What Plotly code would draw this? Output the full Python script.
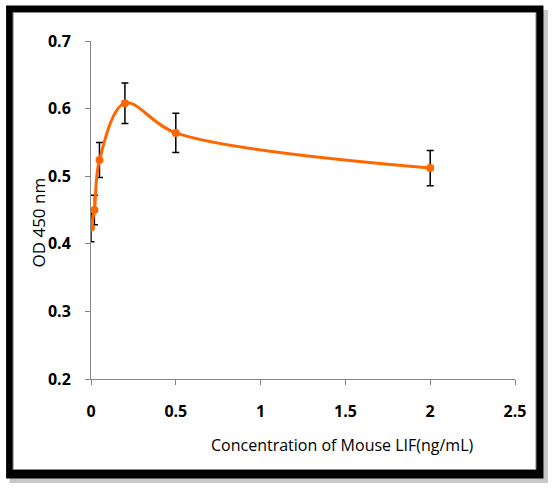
import plotly.graph_objects as go

# LIF dose response (OD 450 nm)
conc = [0, 0.02, 0.05, 0.2, 0.5, 2]
od450 = [0.424, 0.450, 0.524, 0.608, 0.564, 0.512]
od_err = [0.021, 0.022, 0.026, 0.030, 0.029, 0.026]

x_ticks = [0, 0.5, 1, 1.5, 2, 2.5]
y_ticks = [0.2, 0.3, 0.4, 0.5, 0.6, 0.7]

W, H = 557, 492
L, R, T, B = 90.5, 42, 41, 113
pw, ph = W - L - R, H - T - B


def px(x):
    return (x - L) / pw


def py(y):
    return (H - B - y) / ph


fig = go.Figure()
fig.add_trace(go.Scatter(
    x=conc, y=od450,
    mode="lines+markers",
    line=dict(color="#FF6600", width=3, shape="spline", smoothing=1),
    marker=dict(color="#FF6600", size=8),
    error_y=dict(type="data", array=od_err, color="black", thickness=1.5, width=3.5),
    showlegend=False,
))

font = "Open Sans, Noto Sans, sans-serif"

shapes = [
    # shadow
    dict(type="rect", xref="paper", yref="paper", layer="below",
         x0=px(9), x1=px(548), y0=py(483), y1=py(10),
         fillcolor="#c8c8c8", line_width=0),
    # black frame
    dict(type="rect", xref="paper", yref="paper", layer="below",
         x0=px(5.5), x1=px(543.5), y0=py(478.5), y1=py(5.5),
         fillcolor="black", line_width=0),
    # white inner panel
    dict(type="rect", xref="paper", yref="paper", layer="below",
         x0=px(12.5), x1=px(536), y0=py(469.5), y1=py(12.5),
         fillcolor="white", line=dict(color="#8a8a8a", width=1)),
]

annotations = [
    dict(text="OD 450 nm", xref="paper", yref="paper", x=px(37), y=py(223),
         xanchor="center", yanchor="middle",
         showarrow=False, textangle=-90, font=dict(family=font, size=17, color="black")),
    dict(text="Concentration of Mouse LIF(ng/mL)", xref="paper", yref="paper",
         x=px(342), y=py(445), xanchor="center", yanchor="middle", showarrow=False,
         font=dict(family=font, size=16, color="black")),
]

fig.update_layout(
    width=W, height=H,
    margin=dict(l=L, r=R, t=T, b=B, pad=0),
    paper_bgcolor="white",
    plot_bgcolor="rgba(0,0,0,0)",
    shapes=shapes,
    annotations=annotations,
    font=dict(family=font, color="black"),
)

fig.update_xaxes(
    range=[0, 2.5], tickvals=x_ticks, ticktext=[f"{v:g}" for v in x_ticks],
    showgrid=False, zeroline=False,
    showline=True, linecolor="#868686", linewidth=1,
    ticks="outside", ticklen=5, tickcolor="#868686",
    ticklabelstandoff=13,
    tickfont=dict(family=font, size=16, color="black", weight="bold"),
)
fig.update_yaxes(
    range=[0.2, 0.7], tickvals=y_ticks, ticktext=[f"{v:.1f}" for v in y_ticks],
    showgrid=False, zeroline=False,
    showline=True, linecolor="#868686", linewidth=1,
    ticks="outside", ticklen=5, tickcolor="#868686",
    ticklabelstandoff=11,
    tickfont=dict(family=font, size=16, color="black", weight="bold"),
)

fig.write_html("out.html", config={"displayModeBar": False},
               post_script="document.body.style.margin='0';")
